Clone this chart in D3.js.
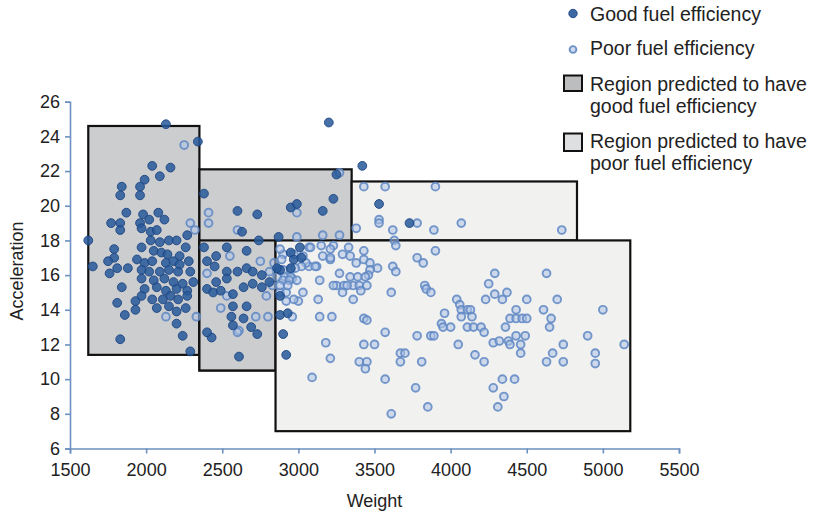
<!DOCTYPE html>
<html>
<head>
<meta charset="utf-8">
<script src="https://cdn.jsdelivr.net/npm/d3@7"></script>
<style>
  html, body { margin: 0; padding: 0; background: #ffffff; }
  svg { display: block; font-family: "Liberation Sans", Arial, Helvetica, sans-serif; }
</style>
</head>
<body>
<svg id="chart" width="818" height="515"></svg>
<script>
// ---------------- DATA ----------------
const xTicks = [1500, 2000, 2500, 3000, 3500, 4000, 4500, 5000, 5500];
const yTicks = [6, 8, 10, 12, 14, 16, 18, 20, 22, 24, 26];
const xLabel = "Weight";
const yLabel = "Acceleration";

// Good fuel efficiency points
const goodWeight = [2130,2340,2040,2160,2090,1990,1960,1840,1830,1960,
  1870,1980,2080,1770,1830,1830,1960,2020,2120,1970,
  2030,2070,1620,2030,2090,2150,2200,2270,2260,1790,
  1970,2050,2100,2140,2220,1790,1650,1750,1940,1990,
  2040,2130,2180,2220,2280,1810,1880,1760,1970,2020,
  2090,2150,2210,2290,1970,2050,2120,2180,2240,2310,
  1840,1990,2070,2130,2200,2270,1810,1930,1970,2040,
  2110,2160,2210,2270,1930,1860,2070,2150,2200,2260,
  2200,1830,2240,2290,2380,2600,2730,2950,2630,2740,
  2870,2380,2530,2460,2660,2400,2450,2530,2600,2660,
  2700,2760,2460,2530,2400,2440,2490,2570,2640,2700,
  2760,2810,2570,2660,2560,2640,2570,2690,2730,2610,
  2900,2920,2880,2950,2880,3250,3230,2990,3160,3010,
  2950,2970,2880,2930,3530,3730,3200,3420,2430,2400,
  3020,2860];
const goodAccel = [24.7,23.7,22.3,22.2,21.7,21.5,21.1,21.1,20.6,20.6,
  19.6,19.5,19.6,19.0,19.0,18.6,19.0,19.2,19.2,18.7,
  18.5,18.6,18.0,18.0,17.9,18.0,18.0,18.3,17.6,17.5,
  17.6,17.4,17.3,17.2,17.1,17.0,16.5,16.8,16.9,16.7,
  16.8,16.7,16.8,16.6,16.8,16.4,16.4,16.1,16.3,16.2,
  16.2,16.3,16.2,16.2,15.8,15.7,15.8,15.6,15.5,15.6,
  15.3,15.2,15.3,15.1,15.2,15.1,14.4,14.5,14.8,14.6,
  14.6,14.8,14.6,14.8,14.0,13.7,14.1,14.2,13.9,14.1,
  13.2,12.3,12.5,11.6,20.7,19.7,19.5,19.9,18.5,18.0,
  18.2,17.6,17.6,17.1,17.4,16.8,16.5,16.2,16.2,16.4,
  16.2,16.0,15.6,15.8,15.2,15.0,15.1,14.9,15.3,15.5,
  15.3,15.6,14.2,14.2,13.6,13.5,13.1,13.0,12.6,11.3,
  12.6,11.4,13.7,16.4,14.8,21.8,20.4,20.1,19.7,17.6,
  17.3,16.9,16.3,13.8,20.1,19.0,24.8,22.3,12.4,12.7,
  17.0,16.4];

// Poor fuel efficiency points
const poorWeight = [2250,2130,2290,2320,2330,2410,2410,2600,2550,2750,
  2400,2810,2530,2790,2490,2720,2800,2610,2900,2970,
  2960,2920,3000,2990,2990,3160,3270,3380,3070,3150,
  3230,3330,2880,2890,3030,3070,3120,3160,3210,3340,
  3380,2950,2910,2950,3140,3250,3300,3360,2880,2920,
  3030,3130,3360,3140,3220,3180,3210,3090,3430,3570,
  3900,3530,3530,3780,4070,3620,3890,4730,3270,3430,
  3430,3630,3640,3780,3820,3900,3470,3520,3620,3640,
  3470,3460,3270,3320,3400,3450,3610,3830,3840,3870,
  3430,3450,3570,3780,3870,3890,3430,3500,3400,3450,
  3440,3670,3700,3670,3810,3570,3770,3850,3610,4040,
  4060,3960,3940,3950,4000,4070,4070,4110,4130,4140,
  4110,4150,4200,4220,4050,4160,4220,4230,4250,4290,
  4290,4340,4370,4280,4320,4380,4390,4430,4490,4360,
  4390,4430,4470,4500,4430,4500,4460,4280,4340,4420,
  4350,4310,4630,4610,4660,4700,4650,4740,4670,4630,
  4740,4900,5000,4950,4950,5140,3080,3210,3210,3290,
  2840,3050,3020,3110,2900,2980,3340,3390,3440,2860,
  2900,2940,2990,2830,2880,2930,3230,3290,3410,2970,
  2960,2600,4460];
const poorAccel = [23.5,13.6,19.0,18.6,13.6,19.6,19.0,18.6,17.1,16.8,
  16.1,16.2,14.8,14.8,14.1,13.6,13.6,12.8,17.2,17.2,
  15.8,14.5,14.5,19.6,18.2,18.3,18.3,18.7,17.6,17.7,
  17.7,17.6,17.5,16.9,17.1,16.5,16.5,17.1,16.9,17.1,
  16.7,16.3,15.9,15.9,15.7,15.4,15.4,15.4,15.0,15.0,
  15.0,14.6,14.6,13.6,13.6,12.1,11.2,10.1,21.1,21.1,
  21.1,19.2,19.0,19.0,19.0,18.6,18.6,18.6,21.9,17.4,
  16.9,18.0,17.7,17.0,16.7,17.4,16.7,16.4,16.5,16.2,
  16.3,16.0,16.1,15.4,15.4,15.4,15.0,15.4,15.2,15.0,
  13.5,13.4,12.7,12.5,12.5,12.5,12.0,12.0,11.0,11.0,
  10.6,11.5,11.5,11.0,11.0,10.0,9.5,8.4,8.0,14.6,
  14.3,13.8,13.2,13.0,13.0,14.0,13.6,14.0,14.0,13.6,
  13.0,13.0,13.0,12.7,12.0,11.4,11.0,14.6,15.5,16.1,
  14.9,14.6,15.0,12.1,12.2,12.2,12.0,12.5,12.5,13.0,
  13.5,13.5,13.5,13.5,14.0,14.6,11.5,9.5,10.0,10.0,
  9.0,8.4,16.1,14.0,13.5,14.6,13.0,12.0,11.5,11.0,
  11.0,12.5,14.0,11.5,10.9,12.0,17.6,17.5,17.0,17.2,
  16.7,16.7,16.5,16.5,16.3,16.4,15.9,15.9,15.9,15.9,
  15.7,15.7,15.7,15.4,15.4,15.4,15.4,15.0,15.1,14.6,
  13.6,12.7,12.0];

// Decision regions (drawn in this order)
const regionX0 = [1620, 2350, 2350, 3350, 2850];
const regionX1 = [2350, 3350, 2850, 4830, 5180];
const regionY0 = [11.4, 10.5, 10.5, 18.0, 7.0];
const regionY1 = [24.6, 22.1, 18.0, 21.4, 18.0];
const regionClass = ["good", "good", "good", "poor", "poor"];

const legendLabels = [
  ["Good fuel efficiency"],
  ["Poor fuel efficiency"],
  ["Region predicted to have", "good fuel efficiency"],
  ["Region predicted to have", "poor fuel efficiency"]
];

// ---------------- CHART ----------------
const svg = d3.select("#chart");
const x = d3.scaleLinear().domain([1500, 5500]).range([70, 679]);
const y = d3.scaleLinear().domain([6, 26]).range([448.5, 101.7]);

const axisColor = "#6d90bf";
const textColor = "#222222";
const regionFill = { good: "#cccdcf", poor: "#f1f1f0" };

// regions
const regions = regionX0.map((d, i) => ({
  x0: regionX0[i], x1: regionX1[i], y0: regionY0[i], y1: regionY1[i], c: regionClass[i]
}));
svg.append("g").selectAll("rect").data(regions).join("rect")
  .attr("x", d => x(d.x0))
  .attr("y", d => y(d.y1))
  .attr("width", d => x(d.x1) - x(d.x0))
  .attr("height", d => y(d.y0) - y(d.y1))
  .attr("fill", d => regionFill[d.c])
  .attr("stroke", "#111")
  .attr("stroke-width", 2.2);

// axes
const xAxis = d3.axisBottom(x).tickValues(xTicks).tickSize(5).tickPadding(10).tickFormat(d3.format("d"));
const yAxis = d3.axisLeft(y).tickValues(yTicks).tickSize(5).tickPadding(5).tickFormat(d3.format("d"));

const gx = svg.append("g").attr("transform", `translate(0,${y(6)})`).call(xAxis);
const gy = svg.append("g").attr("transform", `translate(${x(1500)},0)`).call(yAxis);
[gx, gy].forEach(g => {
  g.select(".domain").attr("stroke", axisColor).attr("stroke-width", 1.6);
  g.selectAll(".tick line").attr("stroke", axisColor).attr("stroke-width", 1.6);
  g.selectAll(".tick text").attr("fill", textColor).style("font-size", "18px")
    .style("font-family", "'Liberation Sans', Arial, sans-serif");
});

// points (poor first, good on top)
const poor = poorWeight.map((w, i) => ({ w, a: poorAccel[i] }));
const good = goodWeight.map((w, i) => ({ w, a: goodAccel[i] }));

svg.append("g").selectAll("circle").data(poor).join("circle")
  .attr("cx", d => x(d.w)).attr("cy", d => y(d.a)).attr("r", 3.9)
  .attr("fill", "rgba(175,196,230,0.55)")
  .attr("stroke", "rgba(95,135,195,0.85)")
  .attr("stroke-width", 1.9);

svg.append("g").selectAll("circle").data(good).join("circle")
  .attr("cx", d => x(d.w)).attr("cy", d => y(d.a)).attr("r", 4.4)
  .attr("fill", "rgba(40,90,155,0.86)")
  .attr("stroke", "rgba(30,70,130,0.9)")
  .attr("stroke-width", 1);

// axis titles
svg.append("text").attr("x", (x(1500) + x(5500)) / 2).attr("y", 507)
  .attr("text-anchor", "middle").attr("fill", textColor).style("font-size", "18px").text(xLabel);
svg.append("text").attr("transform", `translate(23,271) rotate(-90)`)
  .attr("text-anchor", "middle").attr("fill", textColor).style("font-size", "18px").text(yLabel);

// legend
const lg = svg.append("g");
lg.append("circle").attr("cx", 573).attr("cy", 13.5).attr("r", 4.2)
  .attr("fill", "rgba(40,90,155,0.9)").attr("stroke", "rgba(30,70,130,0.9)").attr("stroke-width", 1);
lg.append("circle").attr("cx", 573).attr("cy", 49.5).attr("r", 3.4)
  .attr("fill", "rgba(175,196,230,0.6)").attr("stroke", "rgba(95,135,195,0.9)").attr("stroke-width", 1.9);
lg.append("rect").attr("x", 564).attr("y", 75.5).attr("width", 18).attr("height", 15.5)
  .attr("fill", "#bcbdbf").attr("stroke", "#111").attr("stroke-width", 2);
lg.append("rect").attr("x", 564).attr("y", 133.5).attr("width", 18).attr("height", 17.5)
  .attr("fill", "#dedfe1").attr("stroke", "#111").attr("stroke-width", 2);

const baselines = [[20.5], [55], [90.5, 113], [148, 170]];
legendLabels.forEach((lines, i) => {
  lines.forEach((t, j) => {
    lg.append("text").attr("x", 590).attr("y", baselines[i][j])
      .attr("fill", textColor).style("font-size", "19.5px").text(t);
  });
});
</script>
</body>
</html>
